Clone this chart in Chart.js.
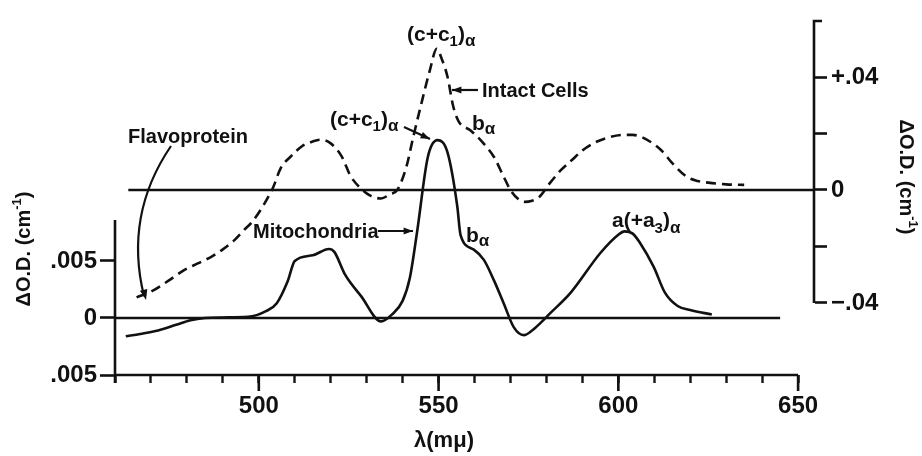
<!DOCTYPE html>
<html>
<head>
<meta charset="utf-8">
<script src="https://cdn.jsdelivr.net/npm/chart.js@4.4.0/dist/chart.umd.min.js"></script>
<style>
    html, body { margin: 0; padding: 0; background: #fff; }
    #wrap { width: 922px; height: 456px; position: relative; }
</style>
</head>
<body>
<div id="wrap"><canvas id="spectrum"></canvas></div>
<script>
// --- Data ---
// Intact cells (dashed, right axis), delta O.D. per cm
const cellWavelengths = [466, 470, 475, 479, 483, 487, 490, 493, 496, 498, 501, 504, 506, 509, 512, 515, 517, 520, 523, 525.5,
    528, 531, 534, 536.5, 538.5, 541, 543, 545, 547.5, 549.5, 551, 552.5, 554, 555.5, 559, 562.5, 565.5, 568, 570, 572,
    574, 576, 578, 581, 584, 587, 590, 593, 597, 601.5, 604, 606, 609, 612, 615, 619, 622, 625, 630, 635];
const intactCells = [-0.038, -0.036, -0.032, -0.0285, -0.026, -0.0235, -0.021, -0.018, -0.014, -0.0115, -0.006, 0.001, 0.0075, 0.012, 0.0155, 0.0172, 0.0178, 0.0165, 0.012, 0.005,
    0.001, -0.002, -0.003, -0.0015, 0, 0.008, 0.019, 0.0295, 0.042, 0.05, 0.046, 0.04, 0.03, 0.0245, 0.021, 0.0165, 0.0115, 0.005, 0, -0.003,
    -0.0042, -0.0038, -0.0025, 0.0025, 0.007, 0.0105, 0.014, 0.0165, 0.0185, 0.0195, 0.0195, 0.019, 0.017, 0.014, 0.0095, 0.0047, 0.0032, 0.0026, 0.002, 0.0018];

// Mitochondria (solid, left axis)
const mitoWavelengths = [463, 467, 472, 477, 481, 485, 490, 497, 502, 505, 508, 510, 515, 519.5, 521, 524, 528.5, 534, 537, 540,
    542, 544, 547, 549.7, 552.5, 555.2, 556.1, 559.8, 562.6, 565.4, 568.1, 570.9, 573.7, 576, 578.3, 581, 586.7, 595, 600, 601.7,
    604, 606, 609.8, 613, 616.5, 620, 626];
const mitochondria = [-0.0016, -0.0014, -0.0011, -0.0006, -0.0002, 0, 0.00005, 0.0001, 0.0006, 0.0013, 0.0032, 0.005, 0.0055, 0.00605, 0.0058, 0.0038, 0.0019, -0.0003, 0.0003, 0.0015,
    0.0035, 0.0075, 0.0141, 0.0156, 0.0145, 0.0098, 0.0073, 0.006, 0.0051, 0.0033, 0.0013, -0.0008, -0.0015, -0.0011, -0.00045, 0.0004, 0.0022, 0.0057, 0.0073, 0.0076,
    0.0074, 0.0066, 0.0045, 0.0022, 0.00105, 0.0007, 0.0003];

// zero lines (wavelength extents)
const cellBaseline = [463.7, 654.7];
const mitoBaseline = [460, 645];

// axes
const xMin = 460, xMax = 654.7;
const xTicks = [460, 470, 480, 490, 500, 510, 520, 530, 540, 550, 560, 570, 580, 590, 600, 610, 620, 630, 640, 650];
const xMajor = [500, 550, 600, 650];
const leftTicks = [-0.005, 0, 0.005];
const leftTickLabels = ['.005', '0', '.005'];
const rightTicks = [-0.04, -0.02, 0, 0.02, 0.04];
const rightTickLabels = ['\u2212.04', '', '0', '', '+.04'];

const INK = '#111';
const FAM = '"Liberation Sans", Arial, sans-serif';
const tickFont = { family: FAM, size: 24, weight: 'bold' };

function rich(ctx, parts, x, y, align) {
    let w = 0;
    parts.forEach(p => { ctx.font = `bold ${p[1]}px ${FAM}`; w += ctx.measureText(p[0]).width; });
    let cx = align === 'center' ? x - w / 2 : x;
    parts.forEach(p => {
        ctx.font = `bold ${p[1]}px ${FAM}`;
        ctx.fillText(p[0], cx, y + (p[2] || 0));
        cx += ctx.measureText(p[0]).width;
    });
}

function head(ctx, x, y, ang, size) {
    ctx.beginPath();
    ctx.moveTo(x, y);
    ctx.lineTo(x - size * Math.cos(ang - 0.35), y - size * Math.sin(ang - 0.35));
    ctx.lineTo(x - size * Math.cos(ang + 0.35), y - size * Math.sin(ang + 0.35));
    ctx.closePath();
    ctx.fill();
}

function arrow(ctx, x1, y1, x2, y2) {
    ctx.beginPath();
    ctx.moveTo(x1, y1);
    ctx.lineTo(x2, y2);
    ctx.stroke();
    head(ctx, x2, y2, Math.atan2(y2 - y1, x2 - x1), 10);
}

// --- Axis lines, long ticks and labels on the figure ---
const figureDecor = {
    id: 'figureDecor',
    afterDraw(chart) {
        const { ctx, scales } = chart;
        const x = scales.x, yl = scales.y, yr = scales.y2;
        ctx.save();
        ctx.strokeStyle = INK;
        ctx.fillStyle = INK;
        ctx.lineWidth = 2.6;
        ctx.lineCap = 'butt';

        // bottom axis + long ticks at labelled values
        const xb = yl.getPixelForValue(-0.005);
        ctx.beginPath();
        ctx.moveTo(x.getPixelForValue(460), xb);
        ctx.lineTo(x.getPixelForValue(650), xb);
        xMajor.forEach(v => {
            const px = x.getPixelForValue(v);
            ctx.moveTo(px, xb);
            ctx.lineTo(px, xb + 16);
        });
        // left axis (partial)
        const xl = x.getPixelForValue(460);
        ctx.moveTo(xl, xb + 8);
        ctx.lineTo(xl, yl.getPixelForValue(0.0086));
        // right axis with hook at the top
        const xr = x.getPixelForValue(xMax) - 1;
        ctx.moveTo(xr + 8, yr.top + 1);
        ctx.lineTo(xr, yr.top + 1);
        ctx.lineTo(xr, yr.getPixelForValue(-0.04));
        ctx.stroke();

        // annotations
        ctx.textBaseline = 'alphabetic';
        rich(ctx, [['Flavoprotein', 20]], 128, 143);
        rich(ctx, [['(c+c', 21], ['1', 15, 5], [')', 21], ['\u03b1', 17, 5]], 407, 41);
        rich(ctx, [['(c+c', 21], ['1', 15, 5], [')', 21], ['\u03b1', 17, 5]], 330, 126);
        rich(ctx, [['Intact Cells', 20]], 482, 97);
        rich(ctx, [['b', 21], ['\u03b1', 17, 4]], 472, 130);
        rich(ctx, [['Mitochondria', 20]], 253, 238);
        rich(ctx, [['b', 21], ['\u03b1', 17, 4]], 466, 242);
        rich(ctx, [['a(+a', 21], ['3', 15, 6], [')', 21], ['\u03b1', 17, 6]], 612, 227);
        rich(ctx, [['\u03bb(m\u03bc)', 22]], 444, 447, 'center');

        ctx.lineWidth = 2.2;
        arrow(ctx, 478, 90, 452, 90);
        arrow(ctx, 378, 231, 413, 231);
        arrow(ctx, 404, 127, 430, 139);
        // curved flavoprotein pointer
        ctx.beginPath();
        ctx.moveTo(171, 146);
        ctx.quadraticCurveTo(124, 215, 144, 296);
        ctx.stroke();
        head(ctx, 146, 300, Math.atan2(84, 20), 11);

        // axis titles
        ctx.textBaseline = 'middle';
        const title = [['\u0394O.D. (cm', 20], ['-1', 13, -7], [')', 20]];
        ctx.save();
        ctx.translate(24, 249);
        ctx.rotate(-Math.PI / 2);
        rich(ctx, title, 0, 0, 'center');
        ctx.restore();
        ctx.save();
        ctx.translate(906, 177);
        ctx.rotate(Math.PI / 2);
        rich(ctx, title, 0, 0, 'center');
        ctx.restore();

        ctx.restore();
    }
};

const pts = (xs, ys) => xs.map((w, i) => ({ x: w, y: ys[i] }));
const flat = xs => xs.map(w => ({ x: w, y: 0 }));

const ctx = document.getElementById('spectrum').getContext('2d');
const spectrumChart = new Chart(ctx, {
    type: 'line',
    data: {
        datasets: [
            {
                label: 'Intact Cells', data: pts(cellWavelengths, intactCells), yAxisID: 'y2',
                borderColor: INK, borderWidth: 2.6, borderDash: [10, 6], pointRadius: 0,
                cubicInterpolationMode: 'monotone', fill: false
            },
            {
                label: 'Mitochondria', data: pts(mitoWavelengths, mitochondria), yAxisID: 'y',
                borderColor: INK, borderWidth: 2.6, pointRadius: 0,
                cubicInterpolationMode: 'monotone', fill: false
            },
            {
                label: 'zero (cells)', data: flat(cellBaseline), yAxisID: 'y2',
                borderColor: INK, borderWidth: 2.4, pointRadius: 0, fill: false
            },
            {
                label: 'zero (mitochondria)', data: flat(mitoBaseline), yAxisID: 'y',
                borderColor: INK, borderWidth: 2.6, pointRadius: 0, fill: false
            }
        ]
    },
    options: {
        responsive: true,
        maintainAspectRatio: false,
        animation: false,
        layout: { padding: { top: 20, left: 0, right: 0, bottom: 0 } },
        plugins: { legend: { display: false }, tooltip: { enabled: false } },
        scales: {
            x: {
                type: 'linear', min: xMin, max: xMax,
                afterBuildTicks: s => { s.ticks = xTicks.map(v => ({ value: v })); },
                afterFit: s => { s.height = 81; },
                border: { display: false },
                grid: { drawOnChartArea: false, drawTicks: true, tickLength: 8, tickWidth: 2.4, tickColor: INK },
                ticks: {
                    autoSkip: false, maxRotation: 0, padding: 9, color: INK, font: tickFont,
                    callback: v => xMajor.includes(v) ? String(v) : ''
                }
            },
            y: {
                position: 'left', min: -0.005, max: 0.02614,
                afterBuildTicks: s => { s.ticks = leftTicks.map(v => ({ value: v })); },
                afterFit: s => { s.width = 115; },
                border: { display: false },
                grid: { drawOnChartArea: false, drawTicks: true, tickLength: 15, tickWidth: 2.6, tickColor: INK },
                ticks: {
                    autoSkip: false, padding: 3, color: INK, font: tickFont,
                    callback: v => leftTickLabels[leftTicks.indexOf(v)]
                }
            },
            y2: {
                position: 'right', min: -0.06549, max: 0.06018,
                afterBuildTicks: s => { s.ticks = rightTicks.map(v => ({ value: v })); },
                afterFit: s => { s.width = 107; },
                border: { display: false },
                grid: { drawOnChartArea: false, drawTicks: true, tickLength: 12, tickWidth: 2.6, tickColor: INK },
                ticks: {
                    autoSkip: false, padding: 4, color: INK, font: tickFont,
                    callback: v => rightTickLabels[rightTicks.indexOf(v)]
                }
            }
        }
    },
    plugins: [figureDecor]
});
</script>
</body>
</html>
